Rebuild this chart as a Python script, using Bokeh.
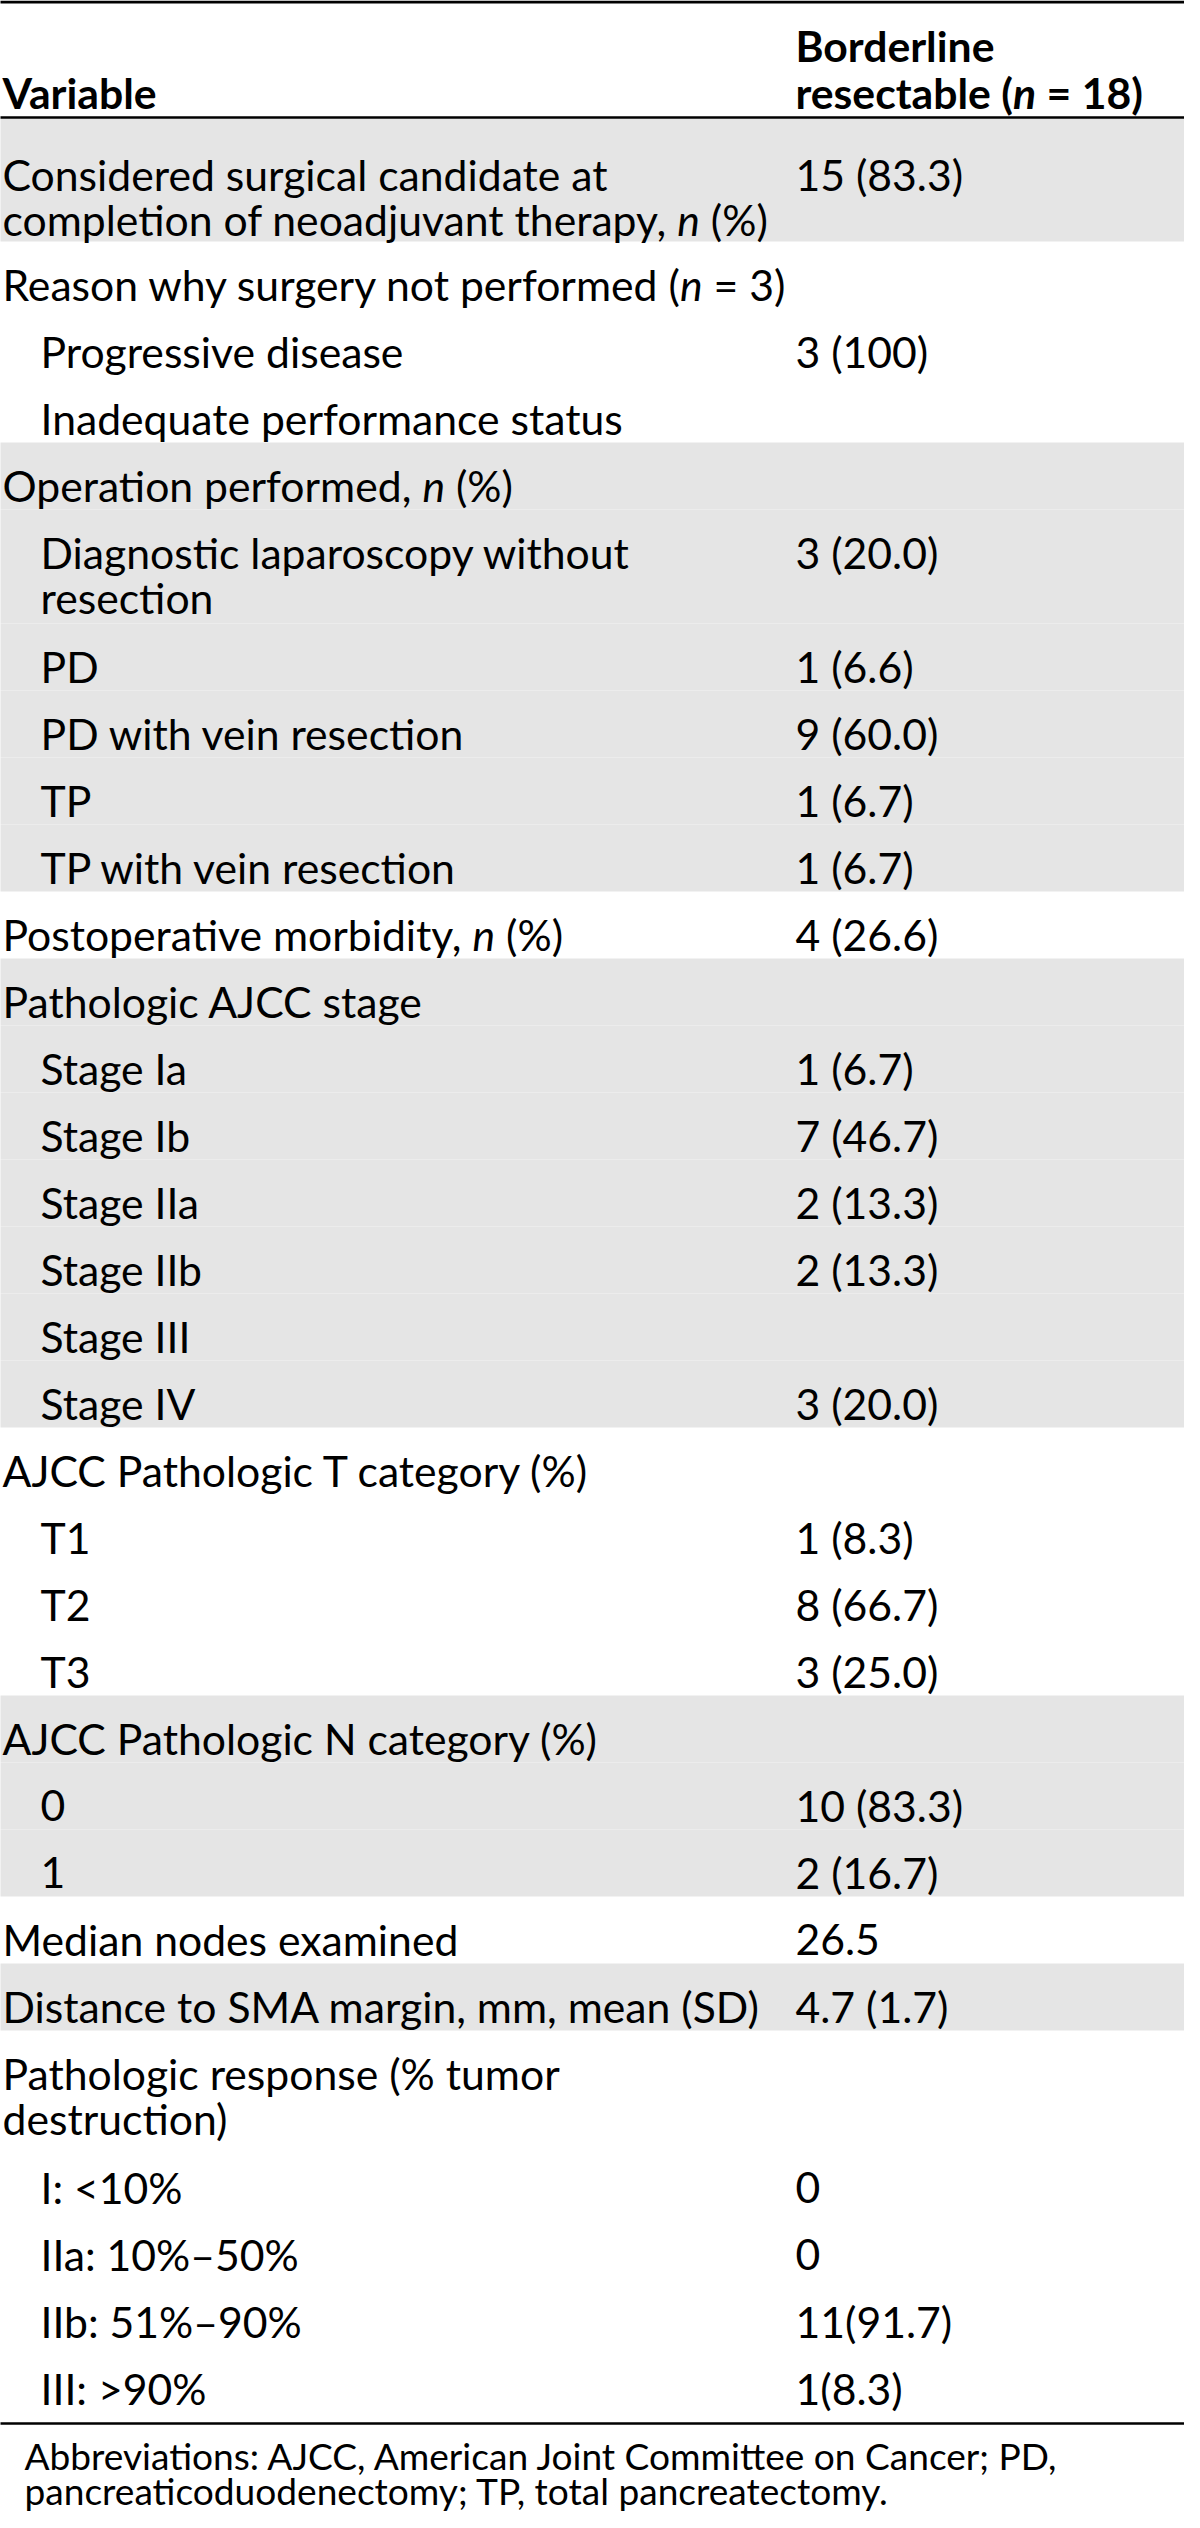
import os
import glob
from bokeh.plotting import figure
from bokeh.models import ColumnDataSource, Range1d
from bokeh.core.properties import value
from bokeh.embed import file_html
from bokeh.resources import INLINE

# ------------------------------------------------------------------ data
header_variable = "Variable"
header_group = ["Borderline", "resectable (_n_ = 18)"]

variables = [
    "Considered surgical candidate at\ncompletion of neoadjuvant therapy, _n_ (%)",
    "Reason why surgery not performed (_n_ = 3)",
    "Progressive disease",
    "Inadequate performance status",
    "Operation performed, _n_ (%)",
    "Diagnostic laparoscopy without\nresection",
    "PD",
    "PD with vein resection",
    "TP",
    "TP with vein resection",
    "Postoperative morbidity, _n_ (%)",
    "Pathologic AJCC stage",
    "Stage Ia",
    "Stage Ib",
    "Stage IIa",
    "Stage IIb",
    "Stage III",
    "Stage IV",
    "AJCC Pathologic T category (%)",
    "T1",
    "T2",
    "T3",
    "AJCC Pathologic N category (%)",
    "0",
    "1",
    "Median nodes examined",
    "Distance to SMA margin, mm, mean (SD)",
    "Pathologic response (% tumor\ndestruction)",
    "I: <10%",
    "IIa: 10%–50%",
    "IIb: 51%–90%",
    "III: >90%",
]

values = [
    "15 (83.3)", "", "3 (100)", "", "", "3 (20.0)", "1 (6.6)", "9 (60.0)",
    "1 (6.7)", "1 (6.7)", "4 (26.6)", "", "1 (6.7)", "7 (46.7)", "2 (13.3)",
    "2 (13.3)", "", "3 (20.0)", "", "1 (8.3)", "8 (66.7)", "3 (25.0)", "",
    "10 (83.3)", "2 (16.7)", "26.5", "4.7 (1.7)", "", "0", "0", "11(91.7)",
    "1(8.3)",
]

indented = [
    0, 0, 1, 1, 0, 1, 1, 1, 1, 1, 0, 0, 1, 1, 1, 1, 1, 1, 0, 1, 1, 1, 0, 1, 1,
    0, 0, 0, 1, 1, 1, 1,
]

shaded = [
    1, 0, 0, 0, 1, 1, 1, 1, 1, 1, 0, 1, 1, 1, 1, 1, 1, 1, 0, 0, 0, 0, 1, 1, 1,
    0, 1, 0, 0, 0, 0, 0,
]

footnote = [
    "Abbreviations: AJCC, American Joint Committee on Cancer; PD,",
    "pancreaticoduodenectomy; TP, total pancreatectomy.",
]

# ------------------------------------------------------------------ layout
# data coordinates == screen pixels of the 1200x2528 window (8px page margin)
FIG_W, FIG_H = 1184, 2512
X0, X1, Y0, Y1 = 8, 8 + FIG_W, 8, 8 + FIG_H

X_LABEL, X_INDENT, X_VALUE, X_NOTE = 10, 48, 803, 32
TOP_RULE, HEAD_RULE = 9.5, 125
ROW0_TOP = 126
SINGLE, EXTRA_LINE, LINE_GAP, BASE_OFF = 67, 47, 45, 43
ROW0_EXTRA_TOP, ROW0_EXTRA_H = 13, 9
FOOT_GAP = 11
NOTE_BASE1, NOTE_BASE2 = 2463, 2498
HEAD_BASE1, HEAD_BASE2 = 53, 100

FONT = "Lato"
FILES = {
    "normal": ["Lato-Regular.ttf", "Lato-Reg*.ttf"],
    "italic": ["Lato-Italic.ttf"],
    "bold": ["Lato-Bold.ttf"],
    "bold italic": ["Lato-BoldItalic.ttf"],
}
DIRS = ["/usr/share/fonts", "/usr/local/share/fonts",
        os.path.expanduser("~/.fonts"), os.path.expanduser("~/.local/share/fonts")]

_cache = {}


def _font(style):
    if style in _cache:
        return _cache[style]
    f = None
    try:
        from PIL import ImageFont
        for pat in FILES[style]:
            for d in DIRS:
                hits = glob.glob(os.path.join(d, "**", pat), recursive=True)
                if hits and f is None:
                    try:
                        f = ImageFont.truetype(sorted(hits)[0], 200)
                    except Exception:
                        f = None
    except Exception:
        f = None
    _cache[style] = f
    return f


def measure(text, style, size):
    f = _font(style)
    if f is None:
        return 0.5 * size * len(text)
    return f.getlength(text) * size / 200.0


def fit_size(text, style, target_px, fallback):
    w = measure(text, style, 100)
    if _font(style) is None or w <= 0:
        return fallback
    return round(100 * target_px / w, 1)


MAIN_SIZE = fit_size("Considered surgical candidate at", "normal", 605, 41.5)
HEAD_SIZE = fit_size("Borderline", "bold", 199, 43)
NOTE_SIZE = fit_size(footnote[0], "normal", 1033, 34)

# ------------------------------------------------------------------ build
texts = {s: dict(x=[], y=[], text=[], size=[]) for s in ["normal", "italic", "bold", "bold italic"]}


def put(line, x, y, bold=False, size=MAIN_SIZE):
    parts = line.split("_")
    cx = x
    for i, part in enumerate(parts):
        if not part:
            continue
        ital = (i % 2 == 1)
        style = (("bold " if bold else "") + ("italic" if ital else "")).strip() or "normal"
        lead = len(part) - len(part.lstrip(" "))
        if lead:
            cx += measure(" " * lead, style, size)
            part = part.lstrip(" ")
        d = texts[style]
        d["x"].append(cx)
        d["y"].append(y)
        d["text"].append(part.rstrip(" "))
        d["size"].append(f"{size}px")
        cx += measure(part, style, size)


# header
put(header_variable, X_LABEL, HEAD_BASE2, bold=True, size=HEAD_SIZE)
put(header_group[0], X_VALUE, HEAD_BASE1, bold=True, size=HEAD_SIZE)
put(header_group[1], X_VALUE, HEAD_BASE2, bold=True, size=HEAD_SIZE)

band_top, band_bot = [], []
y = ROW0_TOP
for i, (lab, val) in enumerate(zip(variables, values)):
    lines = lab.split("\n")
    h = SINGLE + EXTRA_LINE * (len(lines) - 1)
    off = BASE_OFF
    if i == 0:
        h += ROW0_EXTRA_H
        off += ROW0_EXTRA_TOP
    x = X_INDENT if indented[i] else X_LABEL
    for j, ln in enumerate(lines):
        put(ln, x, y + off + j * LINE_GAP)
    if val:
        put(val, X_VALUE, y + off)
    if shaded[i]:
        band_top.append(y)
        band_bot.append(y + h)
    y += h

FOOT_RULE = y + FOOT_GAP
put(footnote[0], X_NOTE, NOTE_BASE1, size=NOTE_SIZE)
put(footnote[1], X_NOTE, NOTE_BASE2, size=NOTE_SIZE)

# ------------------------------------------------------------------ figure
p = figure(width=FIG_W, height=FIG_H, output_backend="svg", toolbar_location=None,
           x_range=Range1d(X0, X1), y_range=Range1d(Y1, Y0),
           x_axis_type=None, y_axis_type=None, min_border=0)
p.grid.visible = False
p.outline_line_color = None
p.background_fill_color = "white"
p.border_fill_color = "white"

p.quad(left=0, right=1200, top=band_top, bottom=band_bot,
       fill_color="#e5e5e5", line_color=None)

rules = ColumnDataSource(dict(y=[TOP_RULE, HEAD_RULE, FOOT_RULE], w=[3.0, 2.5, 2.5]))
p.segment(x0=0, x1=1200, y0="y", y1="y", line_width="w", line_color="#000000", source=rules)

for style, d in texts.items():
    if not d["x"]:
        continue
    src = ColumnDataSource(d)
    p.text(x="x", y="y", text="text", source=src, text_font=value(FONT),
           text_font_size="size", text_font_style=style, text_color="#000000",
           text_baseline="alphabetic", text_align="left")

open("out.html", "w").write(file_html(p, INLINE))
